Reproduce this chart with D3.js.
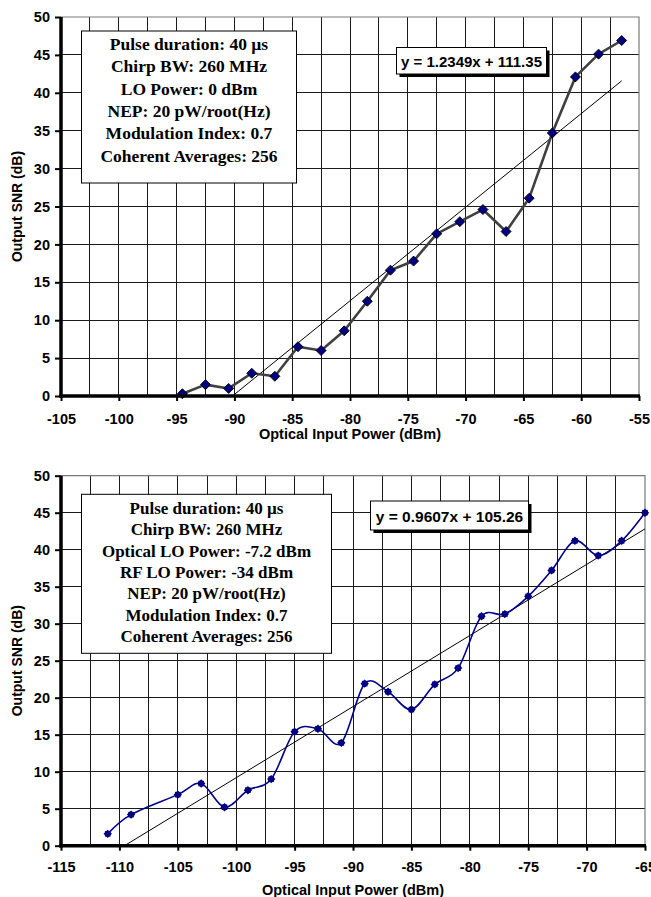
<!DOCTYPE html>
<html>
<head>
<meta charset="utf-8">
<script src="https://cdn.jsdelivr.net/npm/d3@7"></script>
<style>
  html, body { margin: 0; padding: 0; background: #fff; }
  svg { display: block; }
</style>
</head>
<body>
<svg id="chart" width="651" height="897"></svg>
<script>
// ---------- DATA ----------
const topPower = [-94.5, -92.5, -90.5, -88.5, -86.5, -84.5, -82.5, -80.5, -78.5, -76.5,
                  -74.5, -72.5, -70.5, -68.5, -66.5, -64.5, -62.5, -60.5, -58.5, -56.5];
const topSNR   = [0.3, 1.5, 1.0, 3.0, 2.6, 6.5, 6.0, 8.6, 12.5, 16.6,
                  17.8, 21.4, 23.0, 24.6, 21.7, 26.1, 34.7, 42.1, 45.1, 46.9];
const topTrend = { slope: 1.2349, intercept: 111.35 };
const topTrendLabel = "y = 1.2349x + 111.35";
const topInfo = ["Pulse duration: 40 \u00b5s", "Chirp BW: 260 MHz", "LO Power: 0 dBm",
                 "NEP: 20 pW/root(Hz)", "Modulation Index: 0.7", "Coherent Averages: 256"];
const topXTicks = [-105, -100, -95, -90, -85, -80, -75, -70, -65, -60, -55];

const botPower = [-111, -109, -105, -103, -101, -99, -97, -95, -93, -91, -89, -87,
                  -85, -83, -81, -79, -77, -75, -73, -71, -69, -67, -65];
const botSNR   = [1.6, 4.2, 6.9, 8.4, 5.2, 7.5, 9.0, 15.4, 15.8, 13.9, 21.9, 20.8,
                  18.4, 21.8, 24.0, 31.0, 31.3, 33.7, 37.2, 41.2, 39.2, 41.2, 45.0];
const botTrend = { slope: 0.9607, intercept: 105.26 };
const botTrendLabel = "y = 0.9607x + 105.26";
const botInfo = ["Pulse duration: 40 \u00b5s", "Chirp BW: 260 MHz", "Optical LO Power: -7.2 dBm",
                 "RF LO Power: -34 dBm", "NEP: 20 pW/root(Hz)", "Modulation Index: 0.7",
                 "Coherent Averages: 256"];
const botXTicks = [-115, -110, -105, -100, -95, -90, -85, -80, -75, -70, -65];

const yTicks = [0, 5, 10, 15, 20, 25, 30, 35, 40, 45, 50];
const xTitle = "Optical Input Power (dBm)";
const yTitle = "Output SNR (dB)";

// ---------- DRAW ----------
const svg = d3.select("#chart");
const SANS = '"Liberation Sans", Arial, sans-serif';
const SERIF = '"Liberation Serif", "Times New Roman", serif';

function drawChart(cfg) {
  const g = svg.append("g");
  const x = d3.scaleLinear().domain(cfg.xDomain).range([cfg.left, cfg.right]);
  const y = d3.scaleLinear().domain([0, 50]).range([cfg.bottom, cfg.top]);

  // gridlines
  const xGrid = d3.range(cfg.xDomain[0] + 2.5, cfg.xDomain[1] - 0.01, 2.5);
  g.append("g").selectAll("line").data(xGrid).join("line")
    .attr("x1", d => x(d)).attr("x2", d => x(d))
    .attr("y1", y(0)).attr("y2", y(50))
    .attr("stroke", "#1a1a1a").attr("stroke-width", 1).attr("shape-rendering", "crispEdges");
  g.append("g").selectAll("line").data(yTicks.filter(d => d > 0 && d < 50)).join("line")
    .attr("x1", x(cfg.xDomain[0])).attr("x2", x(cfg.xDomain[1]))
    .attr("y1", d => y(d)).attr("y2", d => y(d))
    .attr("stroke", "#1a1a1a").attr("stroke-width", 1).attr("shape-rendering", "crispEdges");
  // plot border (top/right)
  g.append("path")
    .attr("d", `M${x(cfg.xDomain[0])},${y(50)}H${x(cfg.xDomain[1])}V${y(0)}`)
    .attr("fill", "none").attr("stroke", "#7a7a7a").attr("stroke-width", 1.2);

  // clip
  const clipId = "clip" + cfg.id;
  svg.append("clipPath").attr("id", clipId).append("rect")
    .attr("x", cfg.left).attr("y", cfg.top)
    .attr("width", cfg.right - cfg.left).attr("height", cfg.bottom - cfg.top);

  // trend line
  const tx = d3.extent(cfg.px);
  g.append("line")
    .attr("clip-path", `url(#${clipId})`)
    .attr("x1", x(tx[0])).attr("y1", y(cfg.trend.slope * tx[0] + cfg.trend.intercept))
    .attr("x2", x(tx[1])).attr("y2", y(cfg.trend.slope * tx[1] + cfg.trend.intercept))
    .attr("stroke", "#000").attr("stroke-width", 1);

  // series line
  const pts = cfg.px.map((d, i) => [d, cfg.py[i]]);
  const line = d3.line().x(d => x(d[0])).y(d => y(d[1])).curve(cfg.curve);
  g.append("path").attr("d", line(pts))
    .attr("fill", "none").attr("stroke", cfg.lineColor).attr("stroke-width", cfg.lineWidth)
    .attr("stroke-linejoin", "round");

  // markers
  const mk = g.append("g").selectAll("g").data(pts).join("g")
    .attr("transform", d => `translate(${x(d[0])},${y(d[1])})`);
  if (cfg.id === "top") {
    mk.append("path").attr("d", "M0,-5L5,0L0,5L-5,0Z")
      .attr("fill", "#000080").attr("stroke", "#000").attr("stroke-width", 0.9);
  } else {
    mk.append("path").attr("d", "M0,-4.2L4.2,0L0,4.2L-4.2,0Z").attr("fill", "#000080");
    mk.append("rect").attr("x", -2.8).attr("y", -2.8).attr("width", 5.6).attr("height", 5.6)
      .attr("fill", "#000080");
  }

  // axes
  const fmt = d => String(d);
  const ax = d3.axisBottom(x).tickValues(cfg.xTicks).tickSize(5).tickSizeOuter(0)
    .tickPadding(cfg.xPad).tickFormat(fmt);
  const axG = g.append("g").attr("transform", `translate(0,${cfg.bottom})`).call(ax);
  const ay = d3.axisLeft(y).tickValues(yTicks).tickSize(6).tickSizeOuter(0).tickPadding(5)
    .tickFormat(fmt);
  const ayG = g.append("g").attr("transform", `translate(${cfg.left},0)`).call(ay);
  [axG, ayG].forEach(a => {
    a.attr("font-family", SANS).attr("font-size", 14.5).attr("font-weight", "bold");
    a.select(".domain").attr("stroke", "#000").attr("stroke-width", 3.5);
    a.selectAll(".tick line").attr("stroke", "#000").attr("stroke-width", 2);
    a.selectAll(".tick text").attr("fill", "#000")
      .attr("font-family", SANS).attr("font-size", 14.5).attr("font-weight", "bold");
  });
  axG.select(".domain").attr("d", `M${cfg.left - 1.75},0H${cfg.right + 1}`);
  ayG.select(".domain").attr("d", `M0,${cfg.top}V${cfg.bottom + 1.75}`);

  // titles
  g.append("text").text(xTitle)
    .attr("x", (cfg.left + cfg.right) / 2).attr("y", cfg.xTitleY)
    .attr("text-anchor", "middle").attr("font-family", SANS).attr("font-weight", "bold")
    .attr("font-size", 14.5);
  g.append("text").text(yTitle)
    .attr("transform", `translate(22,${(cfg.top + cfg.bottom) / 2}) rotate(-90)`)
    .attr("text-anchor", "middle").attr("font-family", SANS).attr("font-weight", "bold")
    .attr("font-size", 14);

  // info box
  const b = cfg.infoBox;
  g.append("rect").attr("x", b.x).attr("y", b.y).attr("width", b.w).attr("height", b.h)
    .attr("fill", "#fff").attr("stroke", "#000").attr("stroke-width", 1);
  g.append("g").selectAll("text").data(cfg.info).join("text")
    .text(d => d)
    .attr("x", b.x + b.w / 2).attr("y", (d, i) => b.base + i * b.step)
    .attr("text-anchor", "middle").attr("font-family", SERIF).attr("font-weight", "bold")
    .attr("font-size", b.fs).attr("fill", "#000");

  // equation label
  const e = cfg.eqBox;
  g.append("rect").attr("x", e.x + 3).attr("y", e.y + 3).attr("width", e.w).attr("height", e.h)
    .attr("fill", "#000");
  g.append("rect").attr("x", e.x).attr("y", e.y).attr("width", e.w).attr("height", e.h)
    .attr("fill", "#fff").attr("stroke", "#000").attr("stroke-width", 1);
  g.append("text").text(cfg.eqLabel)
    .attr("x", e.x + e.w / 2).attr("y", e.base)
    .attr("text-anchor", "middle").attr("font-family", SANS).attr("font-weight", "bold")
    .attr("font-size", e.fs);
}

drawChart({
  id: "top", left: 61, right: 639, top: 17, bottom: 396,
  xDomain: [-105, -55], xTicks: topXTicks, xPad: 13, xTitleY: 439,
  px: topPower, py: topSNR, trend: topTrend, eqLabel: topTrendLabel,
  curve: d3.curveLinear, lineColor: "#404040", lineWidth: 2.6,
  info: topInfo,
  infoBox: { x: 81.5, y: 31, w: 215, h: 152, base: 50, step: 22.35, fs: 17.5 },
  eqBox: { x: 396.5, y: 47.5, w: 150, h: 26.5, base: 66.5, fs: 15 }
});

drawChart({
  id: "bot", left: 61, right: 645, top: 475.7, bottom: 845.7,
  xDomain: [-115, -65], xTicks: botXTicks, xPad: 11, xTitleY: 895,
  px: botPower, py: botSNR, trend: botTrend, eqLabel: botTrendLabel,
  curve: d3.curveCardinal, lineColor: "#00008b", lineWidth: 1.6,
  info: botInfo,
  infoBox: { x: 81.5, y: 494.3, w: 250, h: 159, base: 514, step: 21.3, fs: 17 },
  eqBox: { x: 370.5, y: 501, w: 158, h: 29, base: 521.5, fs: 15.5 }
});
</script>
</body>
</html>
